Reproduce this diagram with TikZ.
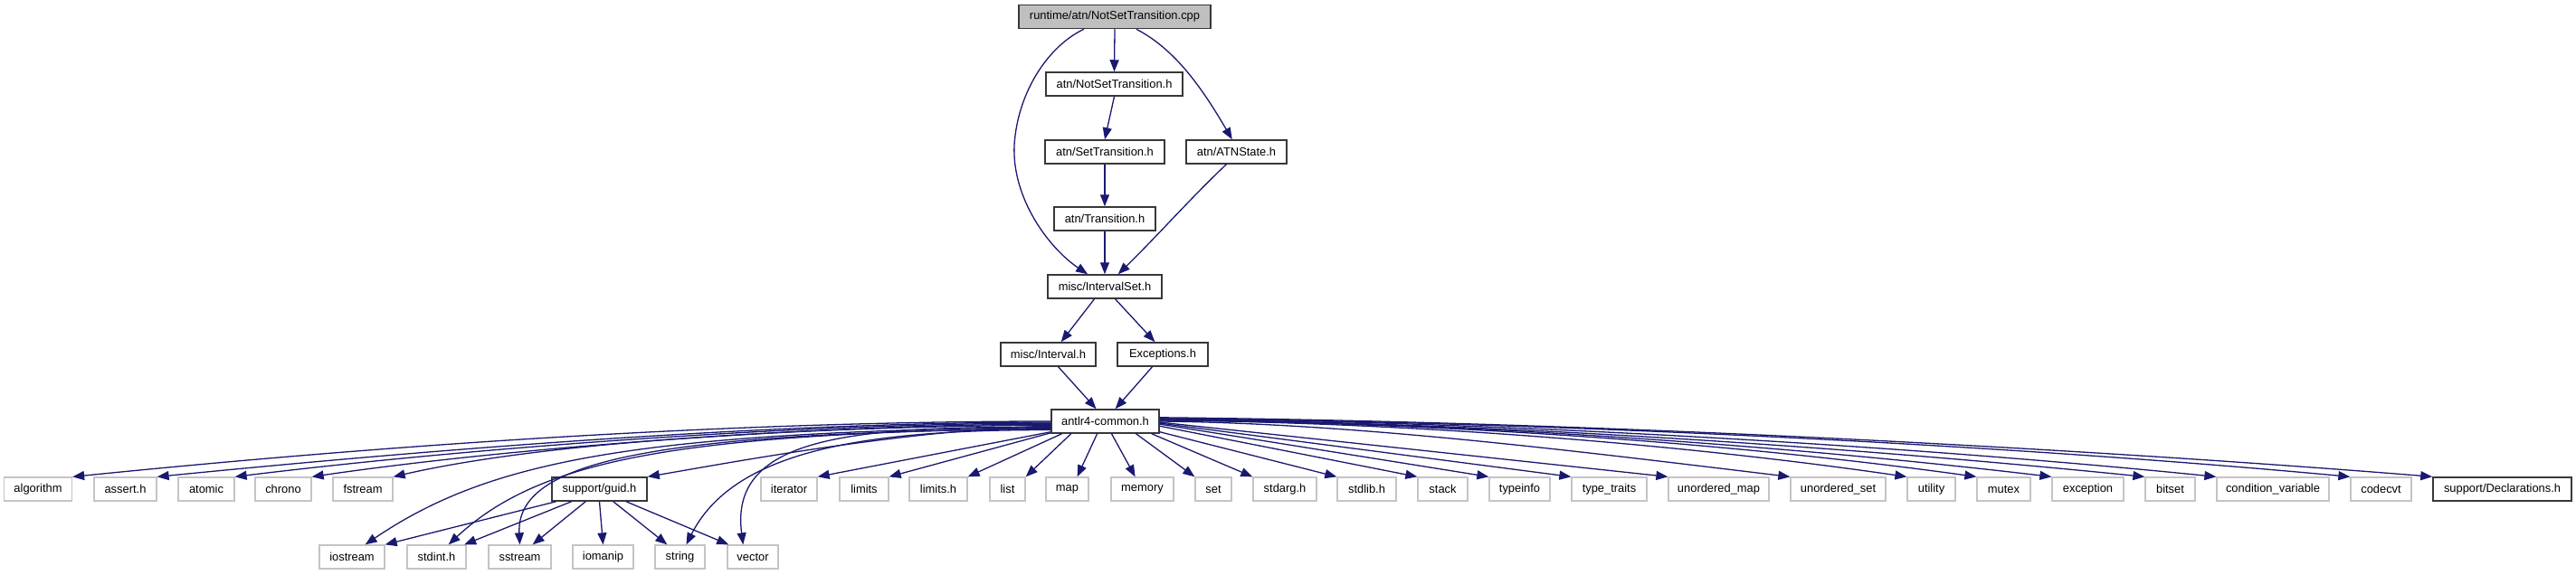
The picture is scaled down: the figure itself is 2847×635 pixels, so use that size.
\documentclass[tikz,border=0pt]{standalone}
\usepackage{fontspec}
\setmainfont{Liberation Sans}
\usetikzlibrary{arrows.meta}
\definecolor{edgeblue}{HTML}{191970}
\definecolor{docgray}{HTML}{383838}
\definecolor{sysgray}{HTML}{C4C4C4}
\definecolor{rootfill}{HTML}{BFBFBF}
\tikzset{
  box/.style={draw=docgray, line width=1.5pt, fill=white, minimum height=26pt, inner sep=0pt, font=\fontsize{12.9}{14}\selectfont},
  sysbox/.style={box, draw=sysgray, line width=1.3pt},
  rootbox/.style={box, fill=rootfill},
  edge/.style={draw=edgeblue, line width=1.3pt, -{Triangle[length=13pt,width=10pt]}},
}
\begin{document}
\begin{tikzpicture}[x=1pt,y=-1pt]
\useasboundingbox (0,0) rectangle (2847,635);
% upper part
\node[rootbox, minimum width=212pt] (top) at (1232,18.5) {runtime/atn/NotSetTransition.cpp};
\node[box, minimum width=151pt] (nst) at (1231.5,93) {atn/NotSetTransition.h};
\node[box, minimum width=132pt] (st) at (1221,168) {atn/SetTransition.h};
\node[box, minimum width=111pt] (atns) at (1366.5,168) {atn/ATNState.h};
\node[box, minimum width=112pt] (tr) at (1221,242) {atn/Transition.h};
\node[box, minimum width=126pt] (is) at (1221,317) {misc/IntervalSet.h};
\node[box, minimum width=105pt] (iv) at (1158.5,392) {misc/Interval.h};
\node[box, minimum width=100pt] (ex) at (1285,392) {Exceptions.h};
\node[box, minimum width=119pt] (ac) at (1221.5,466) {antlr4-common.h};
% row 4
\node[sysbox, minimum width=75pt] (algorithm) at (42,541) {algorithm};
\node[sysbox, minimum width=69pt] (assert) at (138.5,541) {assert.h};
\node[sysbox, minimum width=62pt] (atomic) at (228,541) {atomic};
\node[sysbox, minimum width=62pt] (chrono) at (313,541) {chrono};
\node[sysbox, minimum width=66pt] (fstream) at (401,541) {fstream};
\node[box, minimum width=105pt] (guid) at (662.5,541) {support/guid.h};
\node[sysbox, minimum width=62pt] (iterator) at (872,541) {iterator};
\node[sysbox, minimum width=54pt] (limits) at (955,541) {limits};
\node[sysbox, minimum width=64pt] (limitsh) at (1037,541) {limits.h};
\node[sysbox, minimum width=39pt] (list) at (1113.5,541) {list};
\node[sysbox, minimum width=47pt] (map) at (1179.5,541) {map};
\node[sysbox, minimum width=69pt] (memory) at (1262.5,541) {memory};
\node[sysbox, minimum width=40pt] (set) at (1341,541) {set};
\node[sysbox, minimum width=70pt] (stdarg) at (1420,541) {stdarg.h};
\node[sysbox, minimum width=65pt] (stdlib) at (1510.5,541) {stdlib.h};
\node[sysbox, minimum width=55pt] (stack) at (1594.5,541) {stack};
\node[sysbox, minimum width=67pt] (typeinfo) at (1679.5,541) {typeinfo};
\node[sysbox, minimum width=83pt] (typetraits) at (1778.5,541) {type\_traits};
\node[sysbox, minimum width=111pt] (umap) at (1899.5,541) {unordered\_map};
\node[sysbox, minimum width=105pt] (uset) at (2031.5,541) {unordered\_set};
\node[sysbox, minimum width=53pt] (utility) at (2134.5,541) {utility};
\node[sysbox, minimum width=59pt] (mutex) at (2214.5,541) {mutex};
\node[sysbox, minimum width=79pt] (exception) at (2307.5,541) {exception};
\node[sysbox, minimum width=55pt] (bitset) at (2398.5,541) {bitset};
\node[sysbox, minimum width=124pt] (condvar) at (2512,541) {condition\_variable};
\node[sysbox, minimum width=67pt] (codecvt) at (2631.5,541) {codecvt};
\node[box, minimum width=153pt] (decl) at (2765.5,541) {support/Declarations.h};
% row 5
\node[sysbox, minimum width=72pt] (iostream) at (389,616) {iostream};
\node[sysbox, minimum width=65pt] (stdint) at (482.5,616) {stdint.h};
\node[sysbox, minimum width=69pt] (sstream) at (574.5,616) {sstream};
\node[sysbox, minimum width=67pt] (iomanip) at (666.5,616) {iomanip};
\node[sysbox, minimum width=55pt] (string) at (751.5,616) {string};
\node[sysbox, minimum width=56pt] (vector) at (832,616) {vector};
\coordinate (m1) at (1121,160);
% upper edges
\draw[edge] (top.south) -- (nst.north);
\draw[edge] (top.330) .. controls (1300,55) and (1330,100) .. (atns.109);
\draw[edge] (top.202) .. controls (1160,50) and (1125,100) .. (m1) .. controls (1118,220) and (1160,275) .. (is.144);
\draw[edge] (nst.south) -- (st.north);
\draw[edge] (st.south) -- (tr.north);
\draw[edge] (tr.south) -- (is.north);
\draw[edge] (atns.231) .. controls (1315,220) and (1280,260) .. (is.43);
\draw[edge] (is.230) -- (iv.44);
\draw[edge] (is.310) -- (ex.122);
\draw[edge] (iv.309) -- (ac.126);
\draw[edge] (ex.230) -- (ac.51);
% antlr4-common.h, left side
\draw[edge] (ac.180) .. controls (800,466) and (420,493) .. (algorithm.north east);
\draw[edge] (ac.181) .. controls (850,467) and (480,497) .. (assert.north east);
\draw[edge] (ac.182) .. controls (900,468) and (540,493) .. (atomic.north east);
\draw[edge] (ac.183) .. controls (950,469) and (600,490) .. (chrono.north east);
\draw[edge] (ac.184) .. controls (1000,471) and (640,480) .. (fstream.north east);
\draw[edge] (ac.185) .. controls (1000,475) and (800,513) .. (guid.north east);
\draw[edge] (ac.186) .. controls (700,478) and (540,510) .. (iostream.43);
\draw[edge] (ac.187) .. controls (760,480) and (600,505) .. (stdint.46);
\draw[edge] (ac.188) .. controls (720,478) and (570,510) .. (sstream.north);
\draw[edge] (ac.189) .. controls (950,475) and (810,500) .. (string.63);
\draw[edge] (ac.186.5) .. controls (950,472) and (805,480) .. (vector.128);
\draw[edge] (ac.191) -- (iterator.north east);
\draw[edge] (ac.192.3) -- (limits.north east);
\draw[edge] (ac.196) -- (limitsh.north east);
\draw[edge] (ac.200) -- (list.north east);
\draw[edge] (ac.237) -- (map.51);
\draw[edge] (ac.297) -- (memory.120);
\draw[edge] (ac.338) -- (set.north west);
\draw[edge] (ac.345) -- (stdarg.north west);
% antlr4-common.h, right side
\draw[edge] (ac.349.5) -- (stdlib.north west);
\draw[edge] (ac.355) -- (stack.north west);
\draw[edge] (ac.357) -- (typeinfo.north west);
\draw[edge] (ac.358) -- (typetraits.north west);
\draw[edge] (ac.359) -- (umap.north west);
\draw[edge] (ac.0) .. controls (1500,468) and (1750,500) .. (uset.north west);
\draw[edge] (ac.1) .. controls (1550,467) and (1850,490) .. (utility.north west);
\draw[edge] (ac.1.5) .. controls (1580,467) and (1900,488) .. (mutex.north west);
\draw[edge] (ac.2) .. controls (1600,467) and (1950,490) .. (exception.north west);
\draw[edge] (ac.2.5) .. controls (1650,467) and (2050,495) .. (bitset.north west);
\draw[edge] (ac.3) .. controls (1700,467) and (2150,497) .. (condvar.north west);
\draw[edge] (ac.3.5) .. controls (1750,467) and (2250,495) .. (codecvt.north west);
\draw[edge] (ac.4) .. controls (1800,467) and (2350,500) .. (decl.north west);
% support/guid.h
\draw[edge] (guid.196) -- (iostream.north east);
\draw[edge] (guid.204) -- (stdint.24);
\draw[edge] (guid.222) -- (sstream.44);
\draw[edge] (guid.south) -- (iomanip.north);
\draw[edge] (guid.318) -- (string.136);
\draw[edge] (guid.335) -- (vector.153);
\end{tikzpicture}
\end{document}
